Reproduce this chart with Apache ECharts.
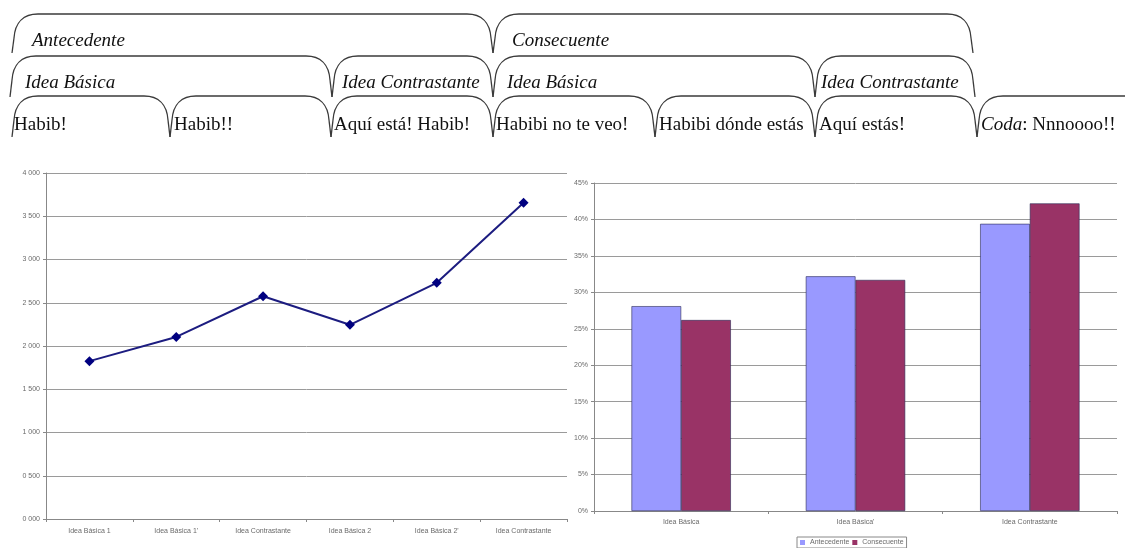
<!DOCTYPE html>
<html>
<head>
<meta charset="utf-8">
<script src="https://cdn.jsdelivr.net/npm/echarts@6/dist/echarts.min.js"></script>
<style>
  html, body { margin: 0; padding: 0; background: #fff; }
  #chart { width: 1125px; height: 548px; }
</style>
</head>
<body>
<div id="chart"></div>
<script>
// ---- Form sections (text) ----
const sectionRow1 = ['Antecedente', 'Consecuente'];
const sectionRow2 = ['Idea Básica', 'Idea Contrastante', 'Idea Básica', 'Idea Contrastante'];
const sectionRow3 = ['Habib!', 'Habib!!', 'Aquí está! Habib!', 'Habibi no te veo!', 'Habibi dónde estás', 'Aquí estás!', '{i|Coda}: Nnnoooo!!'];

// ---- Line chart data ----
const lineCategories = ['Idea Básica 1', "Idea Básica 1'", 'Idea Contrastante', 'Idea Básica 2', "Idea Básica 2'", 'Idea Contrastante'];
const lineValues = [1.825, 2.105, 2.575, 2.245, 2.730, 3.655];

// ---- Bar chart data ----
const barCategories = ['Idea Básica', "Idea Básica'", 'Idea Contrastante'];
const antecedenteValues = [28.1, 32.2, 39.4];
const consecuenteValues = [26.2, 31.7, 42.2];

// ---- Bracket layout: [x0, x1] per segment, row geometry ----
const rowGeom = [
  { top: 14, bottom: 53, textY: 41 },
  { top: 56, bottom: 97, textY: 83 },
  { top: 96, bottom: 137, textY: 125 }
];
const row1Spans = [[12, 493], [493, 973]];
const row2Spans = [[10, 332], [332, 493], [493, 815], [815, 975]];
const row3Spans = [[12, 170], [170, 331], [331, 493], [493, 655], [655, 815], [815, 977], [977, 1170]];
const row1TextX = [32, 512];
const row2TextX = [25, 342, 507, 821];
const row3TextX = [14, 174, 334, 496, 659, 819, 981];
const rowFontSize = [19, 19, 19];

const bracketStyle = { stroke: '#3a3a3a', fill: null, lineWidth: 1.3 };

// One bracket: left stem, rounded top-left, top edge, rounded top-right, right stem
function bracketElements(x0, x1, top, bottom) {
  const rx = 26, ry = 24;
  return [
    { type: 'line', silent: true, style: bracketStyle,
      shape: { x1: x0, y1: bottom, x2: x0 + 2, y2: top + ry } },
    { type: 'bezierCurve', silent: true, style: bracketStyle,
      shape: { x1: x0 + 2, y1: top + ry, cpx1: x0 + 3, cpy1: top + ry * 0.35,
               cpx2: x0 + rx * 0.45, cpy2: top, x2: x0 + rx, y2: top } },
    { type: 'line', silent: true, style: bracketStyle,
      shape: { x1: x0 + rx, y1: top, x2: x1 - rx, y2: top } },
    { type: 'bezierCurve', silent: true, style: bracketStyle,
      shape: { x1: x1 - rx, y1: top, cpx1: x1 - rx * 0.45, cpy1: top,
               cpx2: x1 - 3, cpy2: top + ry * 0.35, x2: x1 - 2, y2: top + ry } },
    { type: 'line', silent: true, style: bracketStyle,
      shape: { x1: x1 - 2, y1: top + ry, x2: x1, y2: bottom } }
  ];
}

const graphics = [];
function addRow(spans, labels, textXs, geom, italic, size) {
  spans.forEach(function (s, i) {
    bracketElements(s[0], s[1], geom.top, geom.bottom).forEach(function (el) { graphics.push(el); });
    graphics.push({
      type: 'text',
      x: textXs[i],
      y: geom.textY,
      silent: true,
      style: {
        text: labels[i],
        fill: '#111',
        fontFamily: '"Liberation Serif", "DejaVu Serif", serif',
        fontSize: size,
        fontStyle: italic ? 'italic' : 'normal',
        verticalAlign: 'middle',
        align: 'left',
        rich: {
          i: { fontStyle: 'italic', fontSize: size, fontFamily: '"Liberation Serif", serif', fill: '#111' }
        }
      }
    });
  });
}
addRow(row1Spans, sectionRow1, row1TextX, rowGeom[0], true, rowFontSize[0]);
addRow(row2Spans, sectionRow2, row2TextX, rowGeom[1], true, rowFontSize[1]);
addRow(row3Spans, sectionRow3, row3TextX, rowGeom[2], false, rowFontSize[2]);

const tinyLabel = { fontSize: 7, color: '#6a6a6a', fontFamily: 'Arial, "Liberation Sans", sans-serif' };

const chart = echarts.init(document.getElementById('chart'), null, { renderer: 'canvas' });
chart.setOption({
  animation: false,
  backgroundColor: '#fff',
  graphic: { elements: graphics },
  legend: {
    data: ['Antecedente', 'Consecuente'],
    left: 797,
    top: 537,
    itemWidth: 5,
    itemHeight: 5,
    itemGap: 3,
    padding: [2, 3],
    borderColor: '#888',
    borderWidth: 1,
    textStyle: tinyLabel,
    itemStyle: { borderWidth: 0 },
    icon: 'rect'
  },
  grid: [
    { left: 46, top: 173, width: 521, height: 346, containLabel: false },
    { left: 594, top: 183, width: 523, height: 328, containLabel: false }
  ],
  xAxis: [
    {
      gridIndex: 0,
      type: 'category',
      data: lineCategories,
      boundaryGap: true,
      axisLine: { lineStyle: { color: '#888', width: 1 } },
      axisTick: { show: true, length: 3, lineStyle: { color: '#888' } },
      axisLabel: Object.assign({ margin: 9, interval: 0 }, tinyLabel),
      splitLine: { show: false }
    },
    {
      gridIndex: 1,
      type: 'category',
      data: barCategories,
      boundaryGap: true,
      axisLine: { lineStyle: { color: '#888', width: 1 } },
      axisTick: { show: true, length: 3, lineStyle: { color: '#888' } },
      axisLabel: Object.assign({ margin: 8, interval: 0 }, tinyLabel),
      splitLine: { show: false }
    }
  ],
  yAxis: [
    {
      gridIndex: 0,
      type: 'value',
      min: 0,
      max: 4,
      interval: 0.5,
      axisLine: { show: true, lineStyle: { color: '#888', width: 1 } },
      axisTick: { show: true, length: 3, lineStyle: { color: '#888' } },
      axisLabel: Object.assign({
        margin: 6,
        formatter: function (v) { return v.toFixed(3).replace('.', ' '); }
      }, tinyLabel),
      splitLine: { show: true, lineStyle: { color: '#9a9a9a', width: 1 } }
    },
    {
      gridIndex: 1,
      type: 'value',
      min: 0,
      max: 45,
      interval: 5,
      axisLine: { show: true, lineStyle: { color: '#888', width: 1 } },
      axisTick: { show: true, length: 3, lineStyle: { color: '#888' } },
      axisLabel: Object.assign({
        margin: 6,
        formatter: function (v) { return v + '%'; }
      }, tinyLabel),
      splitLine: { show: true, lineStyle: { color: '#9a9a9a', width: 1 } }
    }
  ],
  series: [
    {
      name: 'Serie',
      type: 'line',
      xAxisIndex: 0,
      yAxisIndex: 0,
      data: lineValues,
      symbol: 'diamond',
      symbolSize: 10,
      lineStyle: { color: '#1c1c80', width: 2 },
      itemStyle: { color: '#000080' }
    },
    {
      name: 'Antecedente',
      type: 'bar',
      xAxisIndex: 1,
      yAxisIndex: 1,
      data: antecedenteValues,
      barGap: '0%',
      barCategoryGap: '43%',
      itemStyle: { color: '#9999ff', borderColor: '#2a2a55', borderWidth: 0.6 }
    },
    {
      name: 'Consecuente',
      type: 'bar',
      xAxisIndex: 1,
      yAxisIndex: 1,
      data: consecuenteValues,
      barGap: '0%',
      barCategoryGap: '43%',
      itemStyle: { color: '#993366', borderColor: '#2a2a55', borderWidth: 0.6 }
    }
  ]
});
</script>
</body>
</html>
